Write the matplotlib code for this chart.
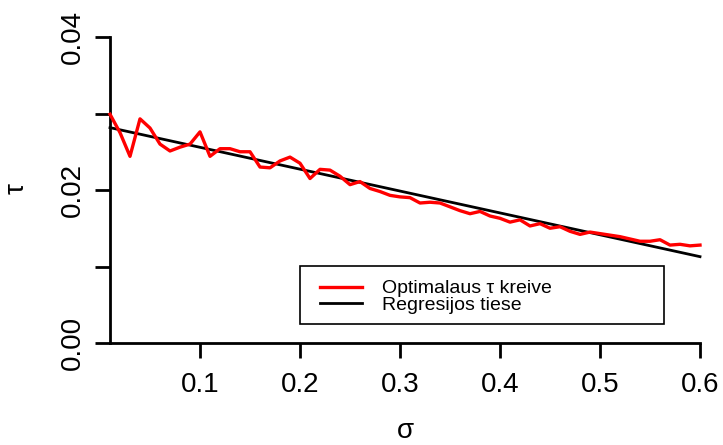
import numpy as np
import matplotlib
matplotlib.use("Agg")
import matplotlib.pyplot as plt
from matplotlib.patches import Rectangle
from matplotlib.lines import Line2D

plt.rcParams['font.family'] = ['Liberation Sans', 'DejaVu Sans']

# sigma grid and the optimal tau found for each sigma
sigma = np.round(np.arange(0.01, 0.6001, 0.01), 2)
tau_opt = [
    0.0299, 0.0275, 0.0244, 0.0293, 0.0281, 0.0260, 0.0251, 0.0256, 0.0260, 0.0276,
    0.0244, 0.0254, 0.0254, 0.0250, 0.0250, 0.0230, 0.0229, 0.0238, 0.0243, 0.0235,
    0.0215, 0.0227, 0.0226, 0.0218, 0.0207, 0.0211, 0.0202, 0.0198, 0.0193, 0.0191,
    0.0190, 0.0183, 0.0184, 0.0183, 0.0178, 0.0173, 0.0169, 0.0172, 0.0166, 0.0163,
    0.0158, 0.0161, 0.0153, 0.0156, 0.0150, 0.0152, 0.0146, 0.0142, 0.0145, 0.0143,
    0.0141, 0.0139, 0.0136, 0.0133, 0.0133, 0.0135, 0.0128, 0.0129, 0.0127, 0.0128,
]

# fitted regression line tau = b0 + b1 * sigma
reg_intercept = 0.02844
reg_slope = -0.02859

x_ticks = [0.1, 0.2, 0.3, 0.4, 0.5, 0.6]
x_tick_labels = ["0.1", "0.2", "0.3", "0.4", "0.5", "0.6"]
y_ticks = [0.00, 0.01, 0.02, 0.03, 0.04]
y_tick_labels = ["0.00", "", "0.02", "", "0.04"]

legend_labels = ["Optimalaus \u03c4 kreive", "Regresijos tiese"]
line_colors = ["#FF0000", "#000000"]

W, H = 723, 445
fig = plt.figure(figsize=(W / 100, H / 100), dpi=100)


def fx(px):
    return px / W


def fy(py):
    return 1 - py / H


# plot region in pixels: x 110..700, y 37..343
ax = fig.add_axes([fx(110), fy(343), (700 - 110) / W, (343 - 37) / H])

ax.plot(sigma, tau_opt, color=line_colors[0], lw=2.4, clip_on=False,
        solid_joinstyle='round', zorder=3)
reg_y = reg_intercept + reg_slope * sigma
ax.plot(sigma, reg_y, color=line_colors[1], lw=2.0, clip_on=False, zorder=2)

ax.set_xlim(0.01, 0.6)
ax.set_ylim(0.0, 0.04)

for side in ("top", "right"):
    ax.spines[side].set_visible(False)
for side in ("left", "bottom"):
    ax.spines[side].set_linewidth(2.0)

ax.set_xticks(x_ticks)
ax.set_xticklabels(x_tick_labels)
ax.set_yticks(y_ticks)
ax.set_yticklabels(y_tick_labels, rotation=90, va='center', ha='right')

ax.tick_params(axis='both', direction='out', length=10.5, width=2.0,
               labelsize=20)
ax.tick_params(axis='x', pad=10.5)
ax.tick_params(axis='y', pad=7)

ax.set_xlabel("\u03c3", fontsize=20)
ax.xaxis.set_label_coords(0.5, (343 - 431) / 306)
ax.xaxis.label.set_va('center')
ax.set_ylabel("\u03c4", fontsize=20, rotation=90)
ax.yaxis.set_label_coords((17 - 110) / 590, (343 - 189) / 306)
ax.yaxis.label.set_va('center')
ax.yaxis.label.set_ha('center')

# legend box
fig.add_artist(Rectangle((fx(300), fy(324)), 364 / W, 58 / H,
                         transform=fig.transFigure, fill=False,
                         edgecolor='black', lw=1.2))
for i, (lab, col) in enumerate(zip(legend_labels, line_colors)):
    yc = [287, 303][i]
    yb = [293, 310][i]
    fig.add_artist(Line2D([fx(320), fx(362)], [fy(yc), fy(yc)],
                          transform=fig.transFigure, color=col,
                          lw=2.4 if i == 0 else 2.0))
    fig.text(fx(382), fy(yb), lab, fontsize=14, va='baseline', ha='left')

fig.savefig("out.png", dpi=100)
